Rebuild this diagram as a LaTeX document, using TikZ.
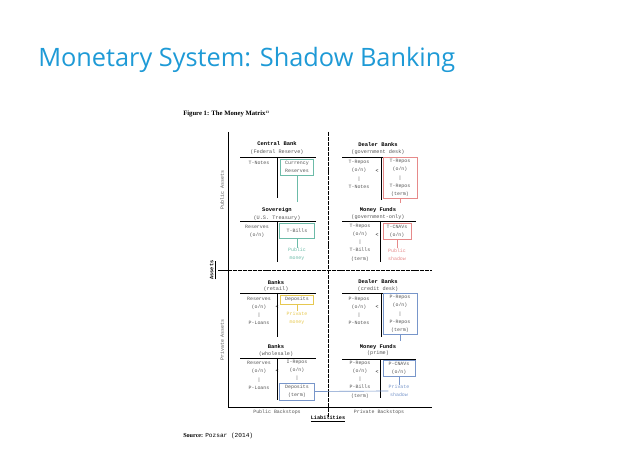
\documentclass[tikz,border=0pt]{standalone}
\usepackage{fontspec}
\setmainfont{Liberation Serif}
\newfontfamily\headfont{Open Sans}
\newfontfamily\mono{Liberation Mono}
\definecolor{headblue}{HTML}{1E9AD6}
\definecolor{pubgreen}{HTML}{6CBBA8}
\definecolor{shadred}{HTML}{E68A8A}
\definecolor{privyellow}{HTML}{E6C850}
\definecolor{privblue}{HTML}{7896CA}
\definecolor{inkgray}{HTML}{555555}
\begin{document}
\begin{tikzpicture}[x=0.75pt,y=-0.75pt,
  body/.style={font=\mono\fontsize{3.7}{6.2}\selectfont, text=inkgray, inner sep=0pt, align=center},
  sheettitle/.style={font=\mono\bfseries\fontsize{4.1}{5}\selectfont, inner sep=0pt},
  sheetsub/.style={font=\mono\fontsize{3.9}{5}\selectfont, text=inkgray, inner sep=0pt},
  tline/.style={line width=0.7pt, black},
  axis/.style={line width=0.55pt, black},
  moneybox/.style={body, draw=#1, line width=0.5pt, inner sep=1.2pt},
  link/.style={line width=0.5pt, draw=#1},
  tag/.style={body, text=#1},
  lt/.style={body, text=black}
]
\useasboundingbox (0,0) rectangle (640,449);

% heading
\node[anchor=base west, inner sep=0pt, font=\headfont\fontsize{19}{22}\selectfont, text=headblue] (head) at (38,67) {Monetary System: Shadow Banking};

% caption
\node[anchor=west, inner sep=0pt, font=\bfseries\fontsize{5}{6}\selectfont] (cap) at (183,114) {Figure 1: The Money Matrix\raisebox{1.6pt}{\fontsize{2.6}{3}\selectfont 13}};

% frame of the matrix
\draw[axis] (228,132) -- (228,407) -- (432,407);
\draw[axis] (218,270) -- (228,270);
\draw[axis, dash pattern=on 3pt off 0.7pt] (228,270) -- (432,270);
\draw[axis, dash pattern=on 3pt off 0.7pt] (328,132) -- (328,417);

% axis labels
\node[body, rotate=90] (pa) at (222,190) {Public Assets};
\node[body, rotate=90] (pva) at (222,340) {Private Assets};
\node[inner sep=0pt, rotate=90, font=\mono\bfseries\fontsize{3.9}{5}\selectfont] (as) at (213,270) {\underline{Assets}};
\node[body] (pbk) at (277,412) {Public Backstops};
\node[body] (prbk) at (379,412) {Private Backstops};
\node[inner sep=0pt, font=\mono\bfseries\fontsize{3.9}{5}\selectfont] (li) at (328,419) {\underline{Liabilities}};

% source
\node[anchor=base west, inner sep=0pt, font=\fontsize{4.6}{5}\selectfont] (src) at (183,437) {\textbf{Source:} {\mono Pozsar (2014)}};

% ---- Central Bank
\node[sheettitle] (cbt) at (277,144) {Central Bank};
\node[sheetsub] (cbs) at (277,152) {(Federal Reserve)};
\draw[tline] (240,157) -- (316,157);
\draw[tline] (277,157) -- (277,198);
\node[body] (cbl) at (259,163) {T-Notes};
\node[moneybox=pubgreen, minimum width=33*0.75pt, minimum height=16*0.75pt] (cr) at (297,167) {Currency\\Reserves};
\coordinate (crend) at (297,202);
\draw[link=pubgreen] (cr.south) -- (crend);

% ---- Sovereign
\node[sheettitle] (svt) at (277,210) {Sovereign};
\node[sheetsub] (svs) at (277,218) {(U.S. Treasury)};
\draw[tline] (240,221) -- (316,221);
\draw[tline] (277,221) -- (277,262);
\node[body] (svl) at (257,231.5) {Reserves\\(o/n)};
\node[moneybox=pubgreen, minimum width=35*0.75pt, minimum height=15*0.75pt] (tb) at (297,231) {T-Bills};
\node[tag=pubgreen] (pubm) at (297,254.5) {Public\\money};
\draw[link=pubgreen] (tb.south) -- (pubm.north);

% ---- Dealer Banks, government desk
\node[sheettitle] (dgt) at (378,145) {Dealer Banks};
\node[sheetsub] (dgs) at (378,152) {(government desk)};
\draw[tline] (342,157) -- (418,157);
\draw[tline] (381,157) -- (381,200);
\node[body] (dgl) at (359,174.5) {T-Repos\\(o/n)\\|\\T-Notes};
\node[lt] (dglt) at (377,171) {<};
\node[moneybox=shadred, minimum width=34*0.75pt, minimum height=40*0.75pt] (dgr) at (400,178) {T-Repos\\(o/n)\\|\\T-Repos\\(term)};
\coordinate (dgend) at (400,205);
\draw[link=shadred, densely dashed] (dgr.south) -- (dgend);

% ---- Money Funds, government-only
\node[sheettitle] (mgt) at (378,210) {Money Funds};
\node[sheetsub] (mgs) at (378,217) {(government-only)};
\draw[tline] (342,221) -- (416,221);
\draw[tline] (380,221) -- (380,262);
\node[body] (mgl) at (360,242.5) {T-Repos\\(o/n)\\|\\T-Bills\\(term)};
\node[lt] (mglt) at (377,235) {<};
\node[moneybox=shadred, minimum width=28*0.75pt, minimum height=16*0.75pt] (tcn) at (397,231) {T-CNAVs\\(o/n)};
\node[tag=shadred] (pubs) at (397,254.5) {Public\\shadow};
\draw[link=shadred] (tcn.south) -- (pubs.north);

% ---- Banks, retail
\node[sheettitle] (brt) at (276,283) {Banks};
\node[sheetsub] (brs) at (276,289) {(retail)};
\draw[tline] (240,293) -- (316,293);
\draw[tline] (277,293) -- (277,337);
\node[body] (brl) at (259,311) {Reserves\\(o/n)\\|\\P-Loans};
\node[lt] (brlt) at (277,307) {<};
\node[moneybox=privyellow, minimum width=33*0.75pt, minimum height=9*0.75pt] (dep) at (297,299.5) {Deposits};
\node[tag=privyellow] (prm) at (297,318) {Private\\money};
\draw[link=privyellow] (dep.south) -- (prm.north);

% ---- Dealer Banks, credit desk
\node[sheettitle] (dct) at (378,282) {Dealer Banks};
\node[sheetsub] (dcs) at (378,289) {(credit desk)};
\draw[tline] (342,293) -- (418,293);
\draw[tline] (381,293) -- (381,337);
\node[body] (dcl) at (359,311) {P-Repos\\(o/n)\\|\\P-Notes};
\node[lt] (dclt) at (377,307) {<};
\node[moneybox=privblue, minimum width=34*0.75pt, minimum height=40*0.75pt] (dcr) at (400,314) {P-Repos\\(o/n)\\|\\P-Repos\\(term)};
\coordinate (dcend) at (400,341);
\draw[link=privblue] (dcr.south) -- (dcend);

% ---- Money Funds, prime
\node[sheettitle] (mpt) at (378,347) {Money Funds};
\node[sheetsub] (mps) at (378,353) {(prime)};
\draw[tline] (342,359) -- (416,359);
\draw[tline] (380,359) -- (380,398);
\node[body] (mpl) at (360,379.5) {P-Repos\\(o/n)\\|\\P-Bills\\(term)};
\node[lt] (mplt) at (377,372) {<};
\node[moneybox=privblue, minimum width=32*0.75pt, minimum height=15*0.75pt] (pcn) at (399,368) {P-CNAVs\\(o/n)};
\node[tag=privblue] (prs) at (399,391) {Private\\shadow};
\draw[link=privblue] (pcn.south) -- (prs.north);

% ---- Banks, wholesale
\node[sheettitle] (bwt) at (276,347) {Banks};
\node[sheetsub] (bws) at (276,354) {(wholesale)};
\draw[tline] (240,358) -- (316,358);
\draw[tline] (277,358) -- (277,400);
\node[body] (bwl) at (259,375.5) {Reserves\\(o/n)\\|\\P-Loans};
\node[body] (bwr) at (297,370.5) {I-Repos\\(o/n)\\|};
\node[lt] (bwlt) at (277,371) {<};
\node[moneybox=privblue, minimum width=35*0.75pt, minimum height=17*0.75pt] (dt) at (297,391.5) {Deposits\\(term)};
\draw[link=privblue] (dt.east) -- (prs.west);

\end{tikzpicture}
\end{document}
